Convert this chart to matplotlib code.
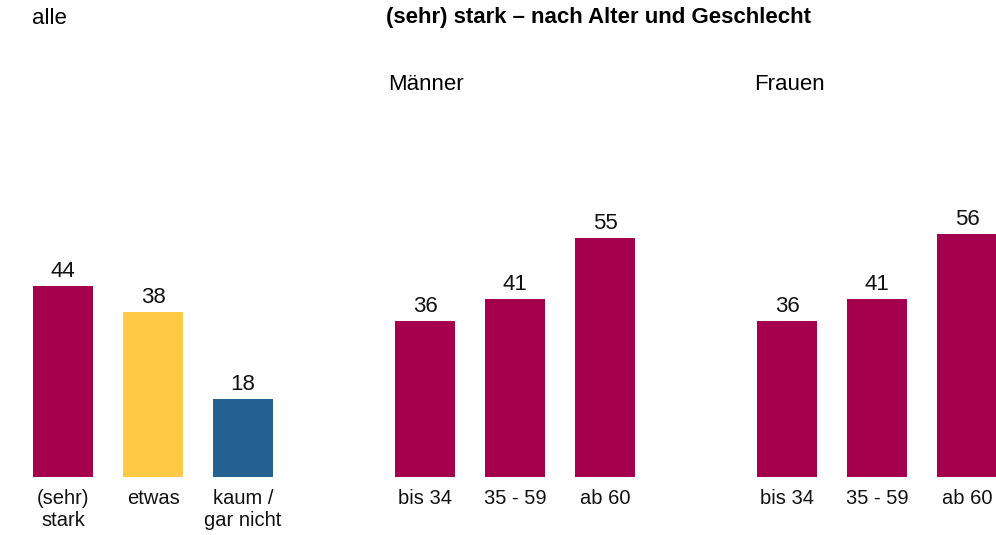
import matplotlib.pyplot as plt

plt.rcParams['font.family'] = ['Liberation Sans', 'DejaVu Sans']

# data
alle_labels = ["(sehr)\nstark", "etwas", "kaum /\ngar nicht"]
alle_values = [44, 38, 18]
alter_labels = ["bis 34", "35 - 59", "ab 60"]
maenner_values = [36, 41, 55]
frauen_values = [36, 41, 56]

magenta = "#A5004D"
gelb = "#FFC845"
blau = "#236192"

W, H = 996, 535
fig = plt.figure(figsize=(W / 100, H / 100), dpi=100)

base = 58 / H
hoehe = 347 / H


def panel(left_px, values, labels, colors):
    ax = fig.add_axes([left_px / W, base, 270 / W, hoehe])
    x = range(len(values))
    bars = ax.bar(x, values, width=0.667, color=colors)
    for b, v in zip(bars, values):
        ax.annotate(str(v), (b.get_x() + b.get_width() / 2, v),
                    xytext=(0, 3), textcoords="offset points",
                    ha="center", va="bottom", fontsize=16, color="#111111")
    ax.set_xlim(-0.5, 2.5)
    ax.set_ylim(0, 80)
    ax.set_xticks(list(x))
    ax.set_xticklabels(labels, fontsize=14.5, linespacing=1.2, color="#111111")
    ax.tick_params(axis="x", length=0, pad=9)
    ax.set_yticks([])
    for s in ax.spines.values():
        s.set_visible(False)
    return ax


panel(18, alle_values, alle_labels, [magenta, gelb, blau])
panel(380, maenner_values, alter_labels, magenta)
panel(742, frauen_values, alter_labels, magenta)

fig.text(32 / W, 1 - 18 / H, "alle", fontsize=16, va="center", ha="left")
fig.text(386 / W, 1 - 18 / H, "(sehr) stark – nach Alter und Geschlecht",
         fontsize=16, fontweight="bold", va="center", ha="left")
fig.text(388 / W, 1 - 84 / H, "Männer", fontsize=16, va="center", ha="left")
fig.text(754 / W, 1 - 84 / H, "Frauen", fontsize=16, va="center", ha="left")

fig.savefig("out.png", dpi=100)
